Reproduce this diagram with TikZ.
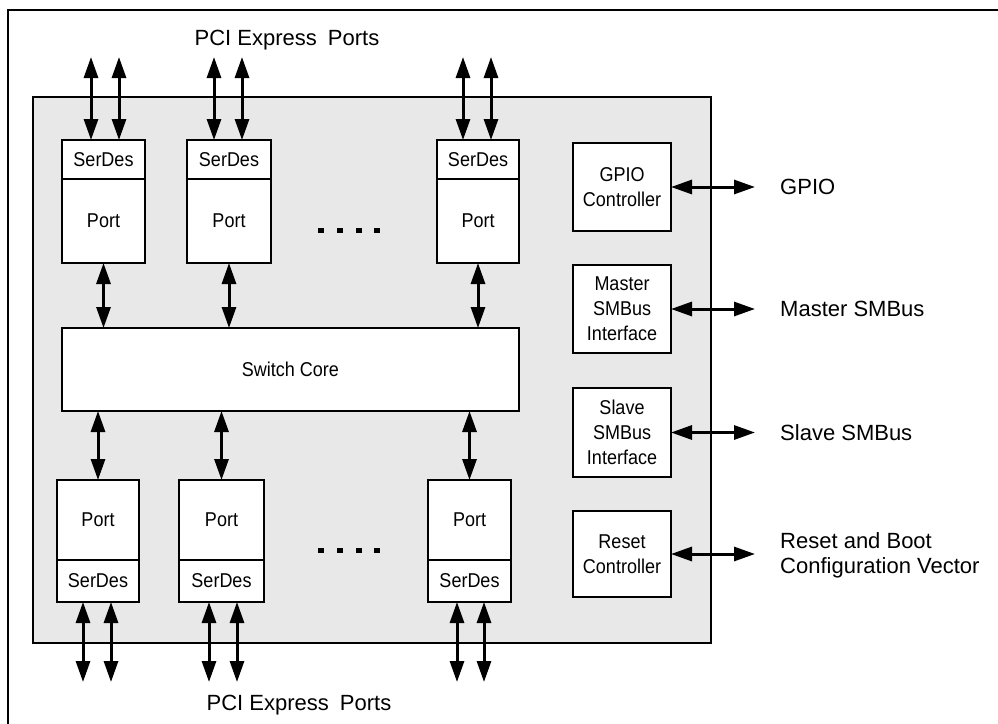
\documentclass[tikz,border=0pt]{standalone}
\usepackage{fontspec}
\setmainfont{Liberation Sans}
\newfontfamily\innerfont{Liberation Sans}[FakeStretch=0.9]
\usetikzlibrary{arrows.meta}
\definecolor{bggray}{RGB}{232,232,232}
\begin{document}
\begin{tikzpicture}[x=1pt,y=-1pt,
  box/.style={draw, line width=2.8pt, fill=white, inner sep=0pt, outer sep=0pt,
    font=\innerfont\fontsize{20}{25}\selectfont, align=center},
  biarrow/.style={line width=3pt,
    {Triangle[length=21pt,width=14pt]}-{Triangle[length=21pt,width=14pt]}},
  lbl/.style={font=\fontsize{22}{25}\selectfont, inner sep=0pt, align=left},
  dotsq/.style={fill=black, draw=none}
]
\useasboundingbox (0,0) rectangle (998,723);
\clip (0,0) rectangle (998,723);
% outer frame
\draw[line width=2.4pt] (1005,10) -- (8,10) -- (8,730);
% chip
\node[draw, line width=2.8pt, fill=bggray, minimum width=678, minimum height=546,
  inner sep=0pt, outer sep=0pt] (chip) at (372,370) {};

% top ports
\node[box, minimum width=83, minimum height=39] (ts1) at (103.5,159.5) {SerDes};
\node[box, minimum width=83, minimum height=84] (tp1) at (103.5,221) {Port};
\node[box, minimum width=84, minimum height=39] (ts2) at (229,159.5) {SerDes};
\node[box, minimum width=84, minimum height=84] (tp2) at (229,221) {Port};
\node[box, minimum width=82, minimum height=39] (ts3) at (478,159.5) {SerDes};
\node[box, minimum width=82, minimum height=84] (tp3) at (478,221) {Port};

% switch core
\node[box, minimum width=457, minimum height=83] (core) at (290.5,369.5) {Switch Core};

% bottom ports
\node[box, minimum width=82, minimum height=80] (bp1) at (98,520) {Port};
\node[box, minimum width=82, minimum height=42] (bs1) at (98,581) {SerDes};
\node[box, minimum width=85, minimum height=80] (bp2) at (221.5,520) {Port};
\node[box, minimum width=85, minimum height=42] (bs2) at (221.5,581) {SerDes};
\node[box, minimum width=83, minimum height=80] (bp3) at (469.5,520) {Port};
\node[box, minimum width=83, minimum height=42] (bs3) at (469.5,581) {SerDes};

% right blocks
\node[box, minimum width=98, minimum height=88] (gpio) at (622,187) {GPIO\\Controller};
\node[box, minimum width=98, minimum height=88] (msmb) at (622,309) {Master\\SMBus\\Interface};
\node[box, minimum width=98, minimum height=89] (ssmb) at (622,432.5) {Slave\\SMBus\\Interface};
\node[box, minimum width=98, minimum height=86] (rst) at (622,554) {Reset\\Controller};

% dots
\foreach \dx in {321,340,358.5,376.5} {
  \fill[dotsq] (\dx-3,227.5) rectangle (\dx+3,232.5);
  \fill[dotsq] (\dx-3,547.5) rectangle (\dx+3,552.5);
}

% free ends
\coordinate (ta1) at (91,57);  \coordinate (tb1) at (119,57);
\coordinate (ta2) at (214,57); \coordinate (tb2) at (242,57);
\coordinate (ta3) at (463,57); \coordinate (tb3) at (491,57);
\coordinate (ba1) at (83,682);  \coordinate (bb1) at (111,682);
\coordinate (ba2) at (209,682); \coordinate (bb2) at (237,682);
\coordinate (ba3) at (457,682); \coordinate (bb3) at (484,682);
\coordinate (egpio) at (755,187);
\coordinate (emsmb) at (755,309);
\coordinate (essmb) at (755,432.5);
\coordinate (erst) at (755,554);

% external port arrows
\foreach \i in {1,2,3} {
  \draw[biarrow] (ta\i) -- (ta\i |- ts\i.north);
  \draw[biarrow] (tb\i) -- (tb\i |- ts\i.north);
  \draw[biarrow] (ba\i) -- (ba\i |- bs\i.south);
  \draw[biarrow] (bb\i) -- (bb\i |- bs\i.south);
  \draw[biarrow] (tp\i.south) -- (tp\i.south |- core.north);
  \draw[biarrow] (bp\i.north) -- (bp\i.north |- core.south);
}

% right arrows
\draw[biarrow] (gpio.east) -- (egpio);
\draw[biarrow] (msmb.east) -- (emsmb);
\draw[biarrow] (ssmb.east) -- (essmb);
\draw[biarrow] (rst.east) -- (erst);

% labels
\node[lbl] (ltop) at (287,40) {PCI Express\hspace{5pt} Ports};
\node[lbl] (lbot) at (299,705) {PCI Express\hspace{5pt} Ports};
\node[lbl, anchor=west] (lgpio) at (780,187) {GPIO};
\node[lbl, anchor=west] (lmsmb) at (780,309) {Master SMBus};
\node[lbl, anchor=west] (lssmb) at (780,432.5) {Slave SMBus};
\node[lbl, anchor=west] (lrst) at (780,555) {Reset and Boot\\Configuration Vector};
\end{tikzpicture}
\end{document}
